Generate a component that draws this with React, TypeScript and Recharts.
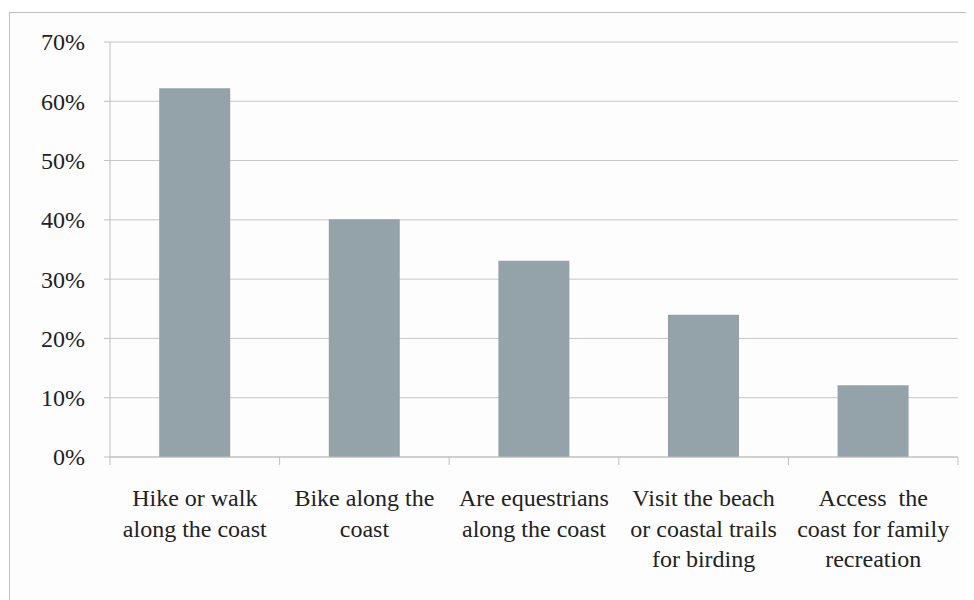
import React from 'react';
import { BarChart, Bar, CartesianGrid, XAxis, YAxis } from 'recharts';

const categories = [
  'Hike or walk\nalong the coast',
  'Bike along the\ncoast',
  'Are equestrians\nalong the coast',
  'Visit the beach\nor coastal trails\nfor birding',
  'Access  the\ncoast for family\nrecreation',
];
const shares = [0.622, 0.401, 0.331, 0.24, 0.121];
const yTicks = [0, 0.1, 0.2, 0.3, 0.4, 0.5, 0.6, 0.7];

const data = categories.map((label, i) => ({ label, value: shares[i] }));

const FONT = "'Liberation Serif', 'Times New Roman', 'DejaVu Serif', serif";
const AXIS_GRAY = '#bfbfbf';

function CategoryTick(props: any): JSX.Element {
  const { x, y, payload, index, visibleTicksCount } = props;
  const lines = String(payload.value).split('\n');
  const half = payload.offset ?? 0;
  return (
    <g>
      <line x1={x - half} x2={x - half} y1={y} y2={y + 8} stroke={AXIS_GRAY} />
      {index === visibleTicksCount - 1 && (
        <line x1={x + half} x2={x + half} y1={y} y2={y + 8} stroke={AXIS_GRAY} />
      )}
      {lines.map((line, i) => (
        <text
          key={i}
          x={x}
          y={y + 49 + i * 30.5}
          textAnchor="middle"
          fill="#222"
          fontFamily={FONT}
          fontSize={24}
          style={{ whiteSpace: 'pre' }}
        >
          {line}
        </text>
      ))}
    </g>
  );
}

function YTick(props: any): JSX.Element {
  const { x, y, payload } = props;
  return (
    <text x={x} y={y} dy="0.35em" textAnchor="end" fill="#222" fontFamily={FONT} fontSize={24}>
      {`${Math.round(payload.value * 100)}%`}
    </text>
  );
}

export default function App(): JSX.Element {
  return (
    <div
      style={{
        marginTop: 4,
        marginLeft: 1,
        width: 964,
        height: 590,
        borderTop: `1px solid ${AXIS_GRAY}`,
        borderLeft: `1px solid ${AXIS_GRAY}`,
        background: '#fdfdfd',
      }}
    >
      <BarChart
        width={964}
        height={580}
        data={data}
        margin={{ top: 29, right: 16, bottom: 16, left: 0 }}
        barCategoryGap="29%"
      >
        <CartesianGrid stroke="#c6c6c6" vertical={false} />
        <XAxis
          dataKey="label"
          height={120}
          interval={0}
          axisLine={{ stroke: AXIS_GRAY }}
          tickLine={false}
          tickSize={0}
          tickMargin={0}
          tick={<CategoryTick />}
        />
        <YAxis
          domain={[0, 0.7]}
          ticks={yTicks}
          width={100}
          tickSize={6}
          tickMargin={19}
          tick={<YTick />}
          axisLine={{ stroke: AXIS_GRAY }}
          tickLine={{ stroke: AXIS_GRAY }}
        />
        <Bar dataKey="value" fill="#94a3a9" isAnimationActive={false} />
      </BarChart>
    </div>
  );
}
